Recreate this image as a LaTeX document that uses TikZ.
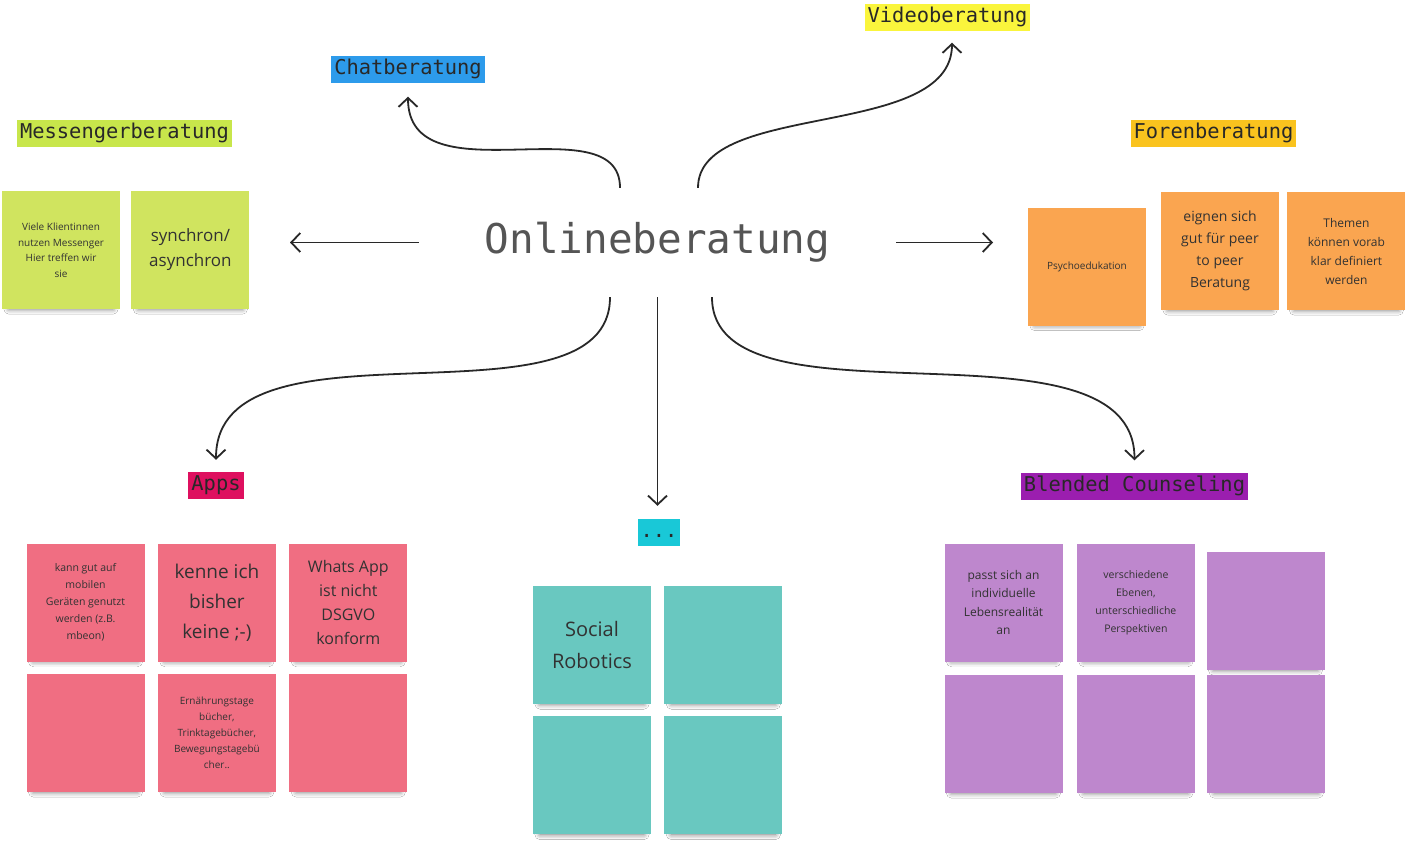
\documentclass[tikz,border=0pt]{standalone}
\usepackage{fontspec}
\setmainfont{Open Sans}
\newfontfamily\tagfont{DejaVu Sans Mono}
\usepackage{xcolor}
\usepackage{tikz}
\usetikzlibrary{positioning}
\usetikzlibrary{arrows.meta}
\usetikzlibrary{shadows.blur}
\newcommand{\notesize}[2]{\fontsize{#1}{#2}\selectfont}
\definecolor{linegray}{RGB}{40,40,40}
\definecolor{centergray}{RGB}{85,85,85}
\definecolor{notetext}{RGB}{50,50,50}
\definecolor{chatblue}{RGB}{45,155,235}
\definecolor{videoyellow}{RGB}{250,245,60}
\definecolor{messlime}{RGB}{200,230,75}
\definecolor{forengold}{RGB}{250,195,30}
\definecolor{appscrimson}{RGB}{222,16,95}
\definecolor{dotscyan}{RGB}{25,200,215}
\definecolor{blendpurple}{RGB}{155,30,175}
\definecolor{limenote}{RGB}{208,228,95}
\definecolor{orangenote}{RGB}{250,165,80}
\definecolor{pinknote}{RGB}{240,110,130}
\definecolor{tealnote}{RGB}{105,200,192}
\definecolor{purplenote}{RGB}{190,135,205}

\begin{document}
\begin{tikzpicture}[
			     x=1pt, y=-1pt,
			     >={Straight Barb[length=9pt,width=19pt]},
			     flow/.style={->, line width=1.8pt, draw=linegray, shorten >=12pt},
			     labeltag/.style={font=\tagfont\notesize{20.4}{20.4}, inner xsep=3pt, inner ysep=0pt, minimum height=27pt, text height=14pt, text depth=4pt, text=linegray},
			     sticky/.style={minimum width=118pt, minimum height=118pt, inner sep=0pt, align=center, text=notetext,
			                    blur shadow={shadow xshift=0pt, shadow yshift=-8pt, shadow scale=0.88, shadow blur radius=6pt, shadow opacity=60}}
			     ]
\fill[white] (0,0) rectangle (1405,841);
\useasboundingbox (0,0) rectangle (1405,841);
% centre
\node[minimum width=477pt, minimum height=109pt, inner sep=0pt, font=\tagfont\notesize{41}{41}, text=centergray] (on) at (657.5,242.5) {Onlineberatung};
% labels
\node[labeltag, fill=chatblue] (chat) at (408,69) {Chatberatung};
\node[labeltag, fill=videoyellow] (video) at (947.5,17) {Videoberatung};
\node[labeltag, fill=messlime] (mess) at (124.5,133) {Messengerberatung};
\node[labeltag, fill=forengold] (foren) at (1213.5,133) {Forenberatung};
\node[labeltag, fill=appscrimson] (apps) at (216,485.5) {Apps};
\node[labeltag, fill=dotscyan] (dots) at (659,532.5) {...};
\node[labeltag, fill=blendpurple] (blend) at (1134.5,486) {Blended Counseling};
% sticky notes
\node[sticky, fill=limenote, font=\notesize{10}{15.5}] (m1) at (61,250) {Viele Klientinnen\\nutzen Messenger\\Hier treffen wir\\sie};
\node[sticky, fill=limenote, font=\notesize{17}{25}, right=11pt of m1] (m2) {synchron/\\asynchron};
\node[sticky, fill=orangenote, font=\notesize{10}{14}] (f1) at (1087,266.5) {Psychoedukation};
\node[sticky, fill=orangenote, font=\notesize{14}{22}] (f2) at (1220,251) {eignen sich\\gut für peer\\to peer\\Beratung};
\node[sticky, fill=orangenote, font=\notesize{12}{19}, right=8pt of f2] (f3) {Themen\\können vorab\\klar definiert\\werden};
\node[sticky, fill=pinknote, font=\notesize{10.5}{17}] (a1) at (85.5,602.5) {kann gut auf\\mobilen\\Geräten genutzt\\werden (z.B.\\mbeon)};
\node[sticky, fill=pinknote, font=\notesize{19}{30}, right=13pt of a1] (a2) {kenne ich\\bisher\\keine ;-)};
\node[sticky, fill=pinknote, font=\notesize{16}{24}, right=13pt of a2] (a3) {Whats App\\ist nicht\\DSGVO\\konform};
\node[sticky, fill=pinknote, below=12pt of a1] (a4) {};
\node[sticky, fill=pinknote, font=\notesize{10}{16}, below=12pt of a2] (a5) {Ernährungstage\\bücher,\\Trinktagebücher,\\Bewegungstagebü\\cher..};
\node[sticky, fill=pinknote, below=12pt of a3] (a6) {};
\node[sticky, fill=tealnote, font=\notesize{20}{32}] (d1) at (592,645) {Social\\Robotics};
\node[sticky, fill=tealnote, right=13pt of d1] (d2) {};
\node[sticky, fill=tealnote, below=12pt of d1] (d3) {};
\node[sticky, fill=tealnote, below=12pt of d2] (d4) {};
\node[sticky, fill=purplenote, font=\notesize{12}{18.5}] (b1) at (1003.5,602.5) {passt sich an\\individuelle\\Lebensrealität\\an};
\node[sticky, fill=purplenote, font=\notesize{10.5}{18}, right=14pt of b1] (b2) {verschiedene\\Ebenen,\\unterschiedliche\\Perspektiven};
\node[sticky, fill=purplenote] (b3) at (1265.5,611) {};
\node[sticky, fill=purplenote, below=13pt of b1] (b4) {};
\node[sticky, fill=purplenote, below=13pt of b2] (b5) {};
\node[sticky, fill=purplenote, right=12pt of b5] (b6) {};
% arrows
\coordinate (messIn) at (290,242.5);
\coordinate (forenIn) at (993,242.5);
\draw[flow, shorten >=0pt] (on.west) -- (messIn);
\draw[flow, shorten >=0pt] (on.east) -- (forenIn);
\draw[flow, shorten >=14pt] ([xshift=-37.5pt]on.north) .. controls +(0,-85) and +(0,118) .. (chat.south);
\draw[flow] ([xshift=40.5pt]on.north) .. controls +(0,-88) and +(0,110) .. ([xshift=4.5pt]video.south);
\draw[flow] ([xshift=-47.5pt]on.south) .. controls +(0,140) and +(0,-165) .. (apps.north);
\draw[flow, shorten >=13pt] (on.south) -- (on.south |- dots.north);
\draw[flow] ([xshift=54.5pt]on.south) .. controls +(0,140) and +(0,-165) .. (blend.north);
\end{tikzpicture}
\end{document}
